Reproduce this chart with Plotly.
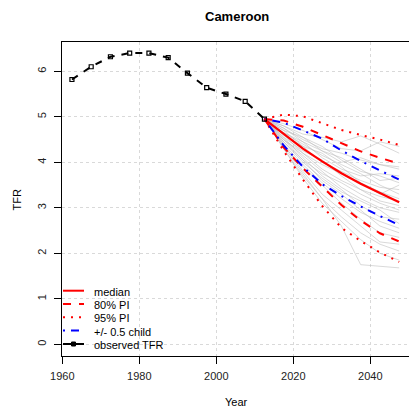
import plotly.graph_objects as go

# Observed total fertility rate (five-year period midpoints)
obs_years = [1962.5, 1967.5, 1972.5, 1977.5, 1982.5, 1987.5, 1992.5, 1997.5, 2002.5, 2007.5, 2012.5]
obs_tfr = [5.82, 6.10, 6.32, 6.40, 6.40, 6.30, 5.96, 5.64, 5.50, 5.34, 4.95]

# Projection periods and summary statistics
proj_years = [2012.5, 2017.5, 2022.5, 2027.5, 2032.5, 2037.5, 2042.5, 2047.5]
median = [4.95, 4.62, 4.30, 4.02, 3.76, 3.53, 3.32, 3.12]
pi80_low = [4.95, 4.33, 3.87, 3.47, 3.06, 2.72, 2.44, 2.26]
pi80_high = [4.95, 4.92, 4.78, 4.60, 4.42, 4.24, 4.10, 3.97]
pi95_low = [4.95, 4.25, 3.62, 3.04, 2.56, 2.27, 2.02, 1.81]
pi95_high = [4.95, 5.05, 5.01, 4.86, 4.71, 4.60, 4.50, 4.38]
# half-child variant shift around the median
half_child_shift = [0.0, 0.25, 0.4, 0.5, 0.5, 0.5, 0.5, 0.5]

# Sample of simulated trajectories
trajectories = [
    [4.95, 4.80, 4.62, 4.55, 4.45, 4.58, 4.40, 4.20],
    [4.95, 4.85, 4.70, 4.50, 4.30, 4.25, 4.45, 4.35],
    [4.95, 4.75, 4.50, 4.30, 4.20, 4.05, 3.95, 3.85],
    [4.95, 4.70, 4.55, 4.35, 4.05, 3.80, 3.70, 3.55],
    [4.95, 4.65, 4.40, 4.15, 3.95, 3.75, 3.50, 3.30],
    [4.95, 4.60, 4.35, 4.20, 3.90, 3.55, 3.35, 3.20],
    [4.95, 4.70, 4.35, 4.00, 3.80, 3.60, 3.45, 3.40],
    [4.95, 4.55, 4.25, 4.05, 3.70, 3.40, 3.15, 3.05],
    [4.95, 4.60, 4.20, 3.85, 3.60, 3.40, 3.25, 3.15],
    [4.95, 4.50, 4.15, 3.80, 3.45, 3.20, 3.00, 2.90],
    [4.95, 4.55, 4.10, 3.70, 3.40, 3.05, 2.80, 2.75],
    [4.95, 4.45, 4.05, 3.75, 3.55, 3.30, 3.10, 2.95],
    [4.95, 4.40, 3.95, 3.55, 3.20, 2.90, 2.70, 2.55],
    [4.95, 4.35, 3.90, 3.50, 3.10, 2.75, 2.45, 2.35],
    [4.95, 4.40, 3.80, 3.30, 2.95, 2.60, 2.25, 2.20],
    [4.95, 4.30, 3.70, 3.20, 2.80, 2.45, 2.20, 2.05],
    [4.95, 4.35, 3.75, 3.20, 2.60, 1.75, 1.72, 1.68],
    [4.95, 4.30, 3.65, 3.10, 2.70, 2.30, 2.00, 1.85],
    [4.95, 4.65, 4.45, 4.25, 4.10, 3.85, 3.60, 3.65],
    [4.95, 4.75, 4.45, 4.10, 3.85, 3.70, 3.75, 3.70],
    [4.95, 4.50, 4.20, 3.95, 3.75, 3.55, 3.30, 3.50],
    [4.95, 4.45, 4.00, 3.65, 3.35, 3.15, 2.95, 2.65],
    [4.95, 4.80, 4.55, 4.25, 4.00, 4.10, 3.95, 3.90],
    [4.95, 4.50, 4.05, 3.60, 3.30, 2.95, 2.60, 2.45],
]

x_ticks = [1960, 1980, 2000, 2020, 2040]
y_ticks = [0, 1, 2, 3, 4, 5, 6]

legend_labels = ["median", "80% PI", "95% PI", "+/- 0.5 child", "observed TFR"]

FONT = "Liberation Sans, Arial, sans-serif"
W = H = 409
L, R, T, B = 62, 0, 42, 53
PW, PH = W - L - R, H - T - B


def px_x(p):
    return (p - L) / PW


def px_y(p):
    return (H - B - p) / PH


half_hi = [m + s for m, s in zip(median, half_child_shift)]
half_lo = [m - s for m, s in zip(median, half_child_shift)]

fig = go.Figure()

for traj in trajectories:
    fig.add_trace(go.Scatter(x=proj_years, y=traj, mode="lines",
                             line=dict(color="rgba(185,185,185,0.55)", width=1),
                             hoverinfo="skip", showlegend=False))

RED, BLUE = "#ff0000", "#0000ff"
DASH, DOT, DASHDOT = "8px,8px", "2px,6px", "2px,6px,8px,6px"

for y, dash, color in [
    (pi95_high, DOT, RED), (pi95_low, DOT, RED),
    (pi80_high, DASH, RED), (pi80_low, DASH, RED),
    (half_hi, DASHDOT, BLUE), (half_lo, DASHDOT, BLUE),
]:
    fig.add_trace(go.Scatter(x=proj_years, y=y, mode="lines",
                             line=dict(color=color, width=2, dash=dash),
                             showlegend=False))

fig.add_trace(go.Scatter(x=proj_years, y=median, mode="lines",
                         line=dict(color=RED, width=2.2), showlegend=False))

fig.add_trace(go.Scatter(x=obs_years, y=obs_tfr, mode="lines+markers",
                         line=dict(color="black", width=2, dash="7px,7px"),
                         marker=dict(symbol="square-open", size=4,
                                     color="black", line=dict(width=1.2, color="black")),
                         showlegend=False))

# Legend drawn inside the plot area, bottom-left
shapes = []
annotations = []
row_y = [290.7, 304.0, 317.3, 330.6, 344.0]
styles = [(RED, "solid"), (RED, DASH), (RED, DOT), (BLUE, DASHDOT), ("black", "solid")]
for label, yy, (color, dash) in zip(legend_labels, row_y, styles):
    shapes.append(dict(type="line", xref="paper", yref="paper",
                       x0=px_x(63), x1=px_x(84), y0=px_y(yy), y1=px_y(yy),
                       line=dict(color=color, width=2, dash=dash)))
    annotations.append(dict(text=label, xref="paper", yref="paper",
                            x=px_x(92), y=px_y(yy + 1), xanchor="left", yanchor="middle",
                            showarrow=False, font=dict(family=FONT, size=11, color="black")))
shapes.append(dict(type="rect", xref="paper", yref="paper",
                   x0=px_x(71.5), x1=px_x(75.5), y0=px_y(row_y[-1] - 2), y1=px_y(row_y[-1] + 2),
                   line=dict(color="black", width=1), fillcolor="black"))

annotations.append(dict(text="<b>Cameroon</b>", xref="paper", yref="paper",
                        x=px_x(236.5), y=px_y(16), xanchor="center", yanchor="middle",
                        showarrow=False, font=dict(family=FONT, size=13, color="black")))
annotations.append(dict(text="Year", xref="paper", yref="paper",
                        x=px_x(236.5), y=px_y(402), xanchor="center", yanchor="middle",
                        showarrow=False, font=dict(family=FONT, size=11, color="black")))
annotations.append(dict(text="TFR", xref="paper", yref="paper", textangle=-90,
                        x=px_x(16.5), y=px_y(200), xanchor="center", yanchor="middle",
                        showarrow=False, font=dict(family=FONT, size=11, color="black")))

fig.update_layout(
    width=W, height=H,
    margin=dict(l=L, r=R, t=T, b=B),
    paper_bgcolor="white", plot_bgcolor="white",
    font=dict(family=FONT, size=11, color="black"),
    shapes=shapes, annotations=annotations,
    showlegend=False,
)
fig.update_xaxes(
    range=[1959.92, 2050.05], tickvals=x_ticks, ticks="outside", ticklen=7,
    tickcolor="black", tickwidth=1, showline=True, linecolor="black", linewidth=1,
    mirror=True, showgrid=True, gridcolor="#d9d9d9", griddash="dot", gridwidth=1,
    zeroline=False, ticklabelstandoff=3, tickfont=dict(family=FONT, size=11, color="#222"),
)
fig.update_yaxes(
    range=[-0.257, 6.644], tickvals=y_ticks, ticks="outside", ticklen=7,
    tickcolor="black", tickwidth=1, showline=True, linecolor="black", linewidth=1,
    showgrid=True, gridcolor="#d9d9d9", griddash="dot", gridwidth=1,
    zeroline=False, tickangle=-90, ticklabelstandoff=4,
    tickfont=dict(family=FONT, size=11, color="#222"),
)

fig.write_html("out.html")
